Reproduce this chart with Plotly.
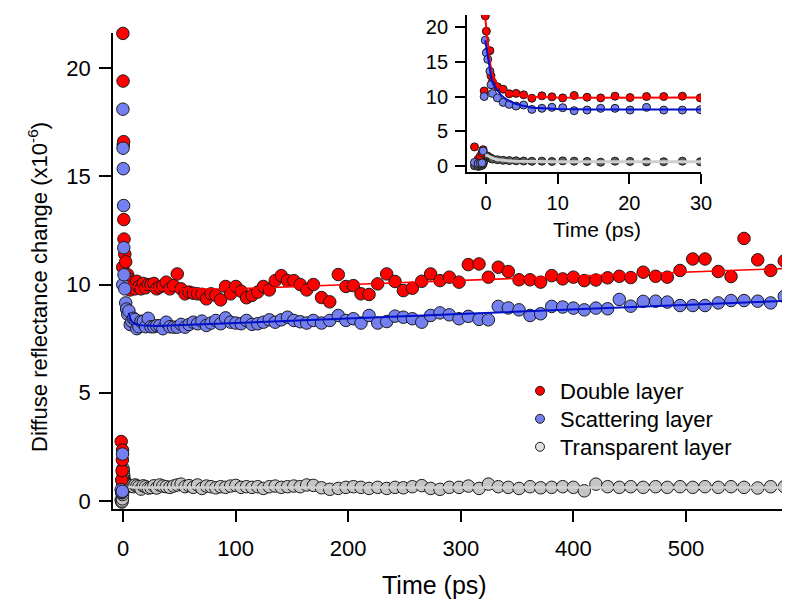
import plotly.graph_objects as go

# ---------------- data ----------------
time_ps = [-1.6, -1.1, -0.8, -0.55, -0.4, -0.25, -0.1, 0.05, 0.25, 0.55, 0.7, 0.9, 1.6, 2.4, 3.25,
           4.2, 5.25, 6.4, 7.8, 9.2, 10.7, 12.3, 14.1, 16.0, 18.0, 20.1, 22.4, 24.8, 27.4, 29.9,
           32.6, 35.4, 38.4, 41.6, 44.9, 48.2, 51.6, 55.1, 58.7, 62.4, 66.2, 70.1, 74.1, 78.2, 82.4,
           86.7, 91.1, 95.6, 100.2, 104.9, 109.7, 114.6, 119.6, 124.7, 129.9, 135.2, 140.6, 146.1,
           151.7, 157.4, 163.2, 169.1, 176.3, 183.6,
           191.2, 198.0, 204.6, 211.4, 218.5, 226.2, 234.2, 241.6, 249.0, 257.0, 265.3, 273.2,
           281.5, 289.8, 298.4, 306.7, 316.2, 324.5, 333.3, 342.2, 351.7, 361.5, 370.9, 380.7,
           390.5, 400.0, 409.7, 420.0, 430.4, 440.8, 450.9, 462.0, 473.0, 483.4, 494.7, 506.0,
           516.9, 528.7, 540.0, 551.5, 563.7, 575.2, 587.3]

double_layer = [2.75, 0.97, 1.40, 1.90, 2.35, 10.8, 21.6, 19.4, 16.45, 16.6, 13.0, 12.1, 11.4, 11.05, 10.4,
                10.45, 10.25, 9.75, 10.1, 9.95, 9.8, 10.15, 9.9, 9.8, 10.05, 9.85, 10.0, 10.0, 10.05, 9.8,
                9.88, 9.95, 10.11, 9.8, 9.95, 10.49, 9.8, 9.57, 9.65, 9.6, 9.57, 9.55, 9.34, 9.57, 9.5,
                9.29, 9.91, 9.57, 9.91, 9.69, 9.39, 9.5, 9.65, 9.91, 9.75, 10.18, 10.41, 10.18,
                10.18, 10.0, 9.75, 10.0, 9.4, 9.2,
                10.46, 9.91, 9.95, 9.57, 9.54, 10.03, 10.49, 10.14, 9.72, 9.83, 10.15, 10.49,
                10.18, 10.34, 10.11, 10.92, 10.95, 10.34, 10.8, 10.6, 10.22, 10.22, 10.11, 10.41,
                10.26, 10.34, 10.18, 10.21, 10.31, 10.38, 10.32, 10.57, 10.38, 10.34, 10.65, 11.18,
                11.18, 10.6, 10.37, 12.13, 11.14, 10.65, 11.09]

scattering_layer = [0.52, 0.38, 0.40, 0.45, 2.17, 10.0, 18.1, 16.3, 15.35, 13.65, 11.7, 10.45, 9.8, 9.15, 8.87,
                    8.63, 8.78, 8.15, 8.3, 8.44, 8.39, 7.96, 8.05, 8.3, 8.3, 8.05, 8.44, 8.05, 8.05, 8.1,
                    8.1, 7.96, 8.26, 8.05, 8.03, 8.03, 8.16, 8.03, 8.15, 8.26, 8.19, 8.31, 8.11, 8.22, 8.34,
                    8.19, 8.46, 8.26, 8.22, 8.19, 8.34, 8.16, 8.19, 8.26, 8.37, 8.26, 8.37, 8.49,
                    8.34, 8.28, 8.22, 8.34, 8.22, 8.34,
                    8.57, 8.34, 8.42, 8.22, 8.57, 8.22, 8.29, 8.54, 8.49, 8.42, 8.26, 8.57,
                    8.69, 8.6, 8.42, 8.53, 8.39, 8.37, 8.99, 8.92, 8.83, 8.57, 8.65, 8.99,
                    8.96, 8.91, 8.83, 8.91, 8.88, 9.31, 9.0, 9.22, 9.23, 9.19, 9.03, 9.03,
                    9.03, 9.15, 9.26, 9.26, 9.23, 9.15, 9.45]

transparent_layer = [0.05, -0.05, 0.0, 0.1, 0.3, 0.8, 1.3, 1.5, 1.4, 1.2, 1.1, 1.0, 0.9, 0.82, 0.78,
                     0.75, 0.72, 0.68, 0.7, 0.66, 0.74, 0.7, 0.66, 0.55, 0.7, 0.66, 0.6, 0.62, 0.7, 0.6,
                     0.74, 0.69, 0.66, 0.63, 0.69, 0.74, 0.78, 0.66, 0.71, 0.63, 0.74, 0.58, 0.69, 0.66, 0.61,
                     0.66, 0.63, 0.69, 0.72, 0.63, 0.66, 0.63, 0.66, 0.58, 0.66, 0.69, 0.63, 0.66,
                     0.69, 0.66, 0.74, 0.72, 0.61, 0.54,
                     0.58, 0.63, 0.66, 0.63, 0.58, 0.63, 0.58, 0.63, 0.61, 0.66, 0.71, 0.58,
                     0.54, 0.63, 0.63, 0.69, 0.58, 0.78, 0.66, 0.63, 0.58, 0.66, 0.61, 0.63,
                     0.66, 0.63, 0.47, 0.78, 0.66, 0.63, 0.66, 0.63, 0.66, 0.63, 0.66, 0.63,
                     0.66, 0.63, 0.66, 0.63, 0.60, 0.66, 0.66]

# fitted curves
fit_time = [-0.1, 0.25, 0.5, 0.75, 1.0, 1.5, 2.0, 2.5, 3.0, 4.0, 5.0, 6.5, 8.0, 10.0, 15.0, 20.0,
            30.0, 100.0, 190.0, 390.0, 587.0]
fit_double = [21.3, 17.6, 15.3, 13.8, 12.9, 11.9, 11.3, 10.9, 10.6, 10.3, 10.1, 9.97, 9.9, 9.86, 9.82, 9.8,
              9.78, 9.80, 9.98, 10.37, 10.74]
fit_scattering = [18.1, 15.6, 13.7, 12.6, 11.8, 11.0, 10.3, 9.85, 9.5, 9.0, 8.7, 8.4, 8.28, 8.2, 8.12, 8.1,
                  8.08, 8.22, 8.41, 8.84, 9.24]
fit_transparent = [1.55, 1.5, 1.35, 1.2, 1.1, 0.95, 0.86, 0.8, 0.76, 0.7, 0.67, 0.64, 0.63, 0.62, 0.62, 0.62,
                   0.62, 0.62, 0.62, 0.62, 0.62]

series_names = ["Double layer", "Scattering layer", "Transparent layer"]
main_xticks = [0, 100, 200, 300, 400, 500]
inset_xticks = [0, 10, 20, 30]
yticks = [0, 5, 10, 15, 20]

# ---------------- styles ----------------
RED = "#ff0000"
BLUE = "#7480f0"
GRAY = "#c4c4c4"
DBLUE = "#0010c8"
OUT = "#1a1a1a"
FONT = "Liberation Sans, Arial, Helvetica, sans-serif"

fig = go.Figure()

main_fit_idx = [i for i, t in enumerate(fit_time) if t >= 5.0]


def sub(arr, idx):
    return [arr[i] for i in idx]


# --- main plot markers (gray, red, blue order) ---
for vals, col in [(transparent_layer, GRAY), (double_layer, RED), (scattering_layer, BLUE)]:
    fig.add_trace(go.Scatter(x=time_ps, y=vals, mode="markers", showlegend=False,
                             marker=dict(size=12.5, color=col, line=dict(color=OUT, width=1)),
                             cliponaxis=False, xaxis="x", yaxis="y"))
# --- main fits ---
for vals, col, w in [(fit_transparent, "#d2d2d2", 2.5), (fit_double, RED, 1.6), (fit_scattering, DBLUE, 2)]:
    fig.add_trace(go.Scatter(x=sub(fit_time, main_fit_idx), y=sub(vals, main_fit_idx), mode="lines",
                             showlegend=False, line=dict(color=col, width=w), xaxis="x", yaxis="y"))

# --- inset markers ---
for vals, col in [(transparent_layer, "#5c5c5c"), (double_layer, RED), (scattering_layer, BLUE)]:
    fig.add_trace(go.Scatter(x=time_ps, y=vals, mode="markers", showlegend=False,
                             marker=dict(size=8, color=col, line=dict(color=OUT, width=1)),
                             cliponaxis=True, xaxis="x2", yaxis="y2"))
# --- inset fits ---
for vals, col, w in [(fit_transparent, "#cfcfcf", 3), (fit_double, RED, 2), (fit_scattering, DBLUE, 2)]:
    fig.add_trace(go.Scatter(x=fit_time, y=vals, mode="lines", showlegend=False,
                             line=dict(color=col, width=w), xaxis="x2", yaxis="y2"))

# --- legend entries (one legend per row, to match the row spacing) ---
legend_ids = ["legend", "legend2", "legend3"]
for name, col, lid in zip(series_names, [RED, BLUE, "#e0e0e0"], legend_ids):
    fig.add_trace(go.Scatter(x=[None], y=[None], mode="markers", name=name, legend=lid,
                             marker=dict(size=9, color=col, line=dict(color=OUT, width=1)),
                             xaxis="x", yaxis="y"))

axis_common = dict(showline=True, linewidth=1.8, linecolor="black", ticks="outside",
                   tickcolor="black", tickwidth=1.5, showgrid=False, zeroline=False,
                   automargin=False)

# page offset of the plot div (default body margin)
OFF = 8
W, H = 790, 603
# plot area in page pixels
PX0, PX1, PY0, PY1 = 113, 787, 15, 509
L, T = PX0 - OFF, PY0 - OFF
R, B = W - (PX1 - OFF), H - (PY1 - OFF)
pw, ph = PX1 - PX0, PY1 - PY0


def px(xp):
    return (xp - PX0) / pw


def py(yp):
    return (PY1 - yp) / ph


def legend_at(top):
    return dict(x=px(520), y=py(top), xanchor="left", yanchor="top", bgcolor="rgba(0,0,0,0)",
                font=dict(family=FONT, size=22, color="black"))


fig.update_layout(
    width=W, height=H, margin=dict(l=L, r=R, t=T, b=B, autoexpand=False),
    paper_bgcolor="white", plot_bgcolor="rgba(0,0,0,0)",
    font=dict(family=FONT, size=22, color="black"),
    xaxis=dict(domain=[0, 1], range=[-8.88, 589.7], tickvals=main_xticks, ticklen=11,
               ticklabelstandoff=8, anchor="y", tickfont=dict(family=FONT, size=22, color="black"),
               **axis_common),
    yaxis=dict(domain=[0, py(33)], range=[-0.37, 21.62], tickvals=yticks, ticklen=12,
               ticklabelstandoff=4, anchor="x", tickfont=dict(family=FONT, size=22, color="black"),
               **axis_common),
    xaxis2=dict(domain=[px(467), px(701)], range=[-2.65, 30], tickvals=inset_xticks, ticklen=10,
                ticklabelstandoff=2, anchor="y2", tickfont=dict(family=FONT, size=20, color="black"),
                **axis_common),
    yaxis2=dict(domain=[py(172), 1], range=[-0.86, 21.73], tickvals=yticks, ticklen=10,
                ticklabelstandoff=3, anchor="x2", tickfont=dict(family=FONT, size=20, color="black"),
                **axis_common),
    legend=legend_at(370),
    legend2=legend_at(398),
    legend3=legend_at(426),
    annotations=[
        dict(text="Diffuse reflectance change (x10<sup>-6</sup>)", xref="paper", yref="paper",
             x=px(38), y=py(287), xanchor="center", yanchor="middle", textangle=-90,
             showarrow=False, font=dict(family=FONT, size=22, color="black")),
        dict(text="Time (ps)", xref="paper", yref="paper", x=px(434), y=py(585),
             xanchor="center", yanchor="middle", showarrow=False,
             font=dict(family=FONT, size=25, color="black")),
        dict(text="Time (ps)", xref="paper", yref="paper", x=px(597), y=py(229),
             xanchor="center", yanchor="middle", showarrow=False,
             font=dict(family=FONT, size=21, color="black")),
    ],
)

fig.write_html("out.html")
